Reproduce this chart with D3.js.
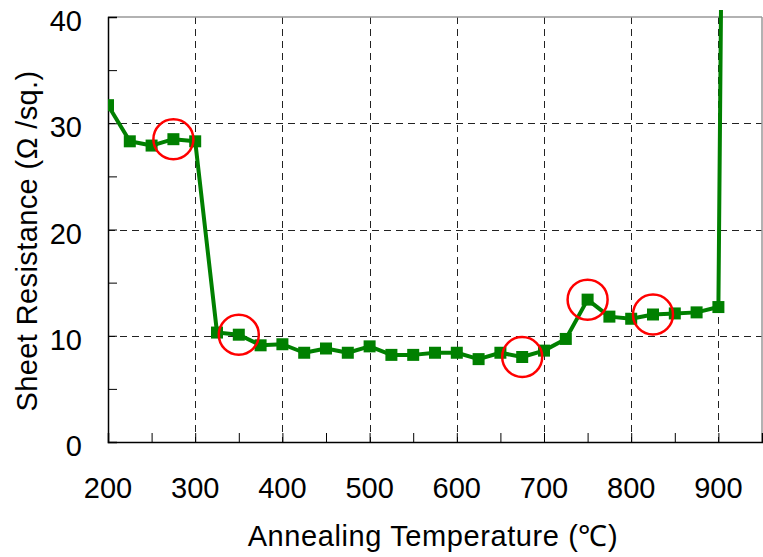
<!DOCTYPE html>
<html>
<head>
<meta charset="utf-8">
<script src="https://cdn.jsdelivr.net/npm/d3@7"></script>
<style>
  html, body { margin: 0; padding: 0; background: #fff; }
  svg { display: block; }
  text { font-family: "Liberation Sans Narrow", "Arial Narrow", "Liberation Sans", sans-serif; fill: #000; }
</style>
</head>
<body>
<svg id="chart" width="763" height="557"></svg>
<script>
// ---- data ----
const temperatures = [200, 225, 250, 275, 300, 325, 350, 375, 400, 425, 450, 475, 500, 525, 550, 575, 600, 625, 650, 675, 700, 725, 750, 775, 800, 825, 850, 875, 900, 905];
const resistance   = [31.7, 28.3, 27.9, 28.5, 28.3, 10.3, 10.1, 9.1, 9.2, 8.4, 8.8, 8.4, 9.0, 8.2, 8.2, 8.4, 8.4, 7.8, 8.4, 8.0, 8.6, 9.7, 13.4, 11.8, 11.6, 12.0, 12.1, 12.2, 12.7, 60];
const highlighted  = [275, 350, 675, 750, 825];
const xTickLabels  = [200, 300, 400, 500, 600, 700, 800, 900];
const yTickLabels  = [0, 10, 20, 30, 40];
const xLabel = "Annealing Temperature (℃)";
const yLabel = "Sheet Resistance (Ω /sq.)";

// ---- layout ----
const margin = { left: 108, top: 17, right: 1, bottom: 115 };
const W = 763, H = 557;
const width = W - margin.left - margin.right;
const height = H - margin.top - margin.bottom;

const svg = d3.select("#chart");
const g = svg.append("g").attr("transform", `translate(${margin.left},${margin.top})`);

const x = d3.scaleLinear().domain([200, 950]).range([0, width]);
const y = d3.scaleLinear().domain([0, 40]).range([height, 0]);

// clip (slightly taller at top to let the last segment poke out)
svg.append("defs").append("clipPath").attr("id", "clip")
  .append("rect").attr("x", 0).attr("y", -7).attr("width", width).attr("height", height + 7);

// grid
const grid = g.append("g").attr("stroke", "#222").attr("stroke-width", 1).attr("stroke-dasharray", "7,5");
grid.selectAll("line.v").data(xTickLabels.filter(d => d > 200)).enter().append("line")
  .attr("x1", d => Math.round(x(d)) + 0.5).attr("x2", d => Math.round(x(d)) + 0.5)
  .attr("y1", 0).attr("y2", height);
grid.selectAll("line.h").data([10, 20, 30]).enter().append("line")
  .attr("y1", d => Math.round(y(d)) + 0.5).attr("y2", d => Math.round(y(d)) + 0.5)
  .attr("x1", 0).attr("x2", width);

// frame: top/right grey
g.append("line").attr("x1", 0).attr("x2", width).attr("y1", 0).attr("y2", 0)
  .attr("stroke", "#999").attr("stroke-width", 1.5);
g.append("line").attr("x1", width).attr("x2", width).attr("y1", 0).attr("y2", height)
  .attr("stroke", "#999").attr("stroke-width", 1.5);

// axes
const xAxis = d3.axisBottom(x).tickValues(d3.range(200, 951, 50)).tickSize(-9).tickFormat("");
const gx = g.append("g").attr("transform", `translate(0,${height})`).call(xAxis);
gx.select(".domain").attr("stroke", "#000").attr("stroke-width", 1.5);
gx.selectAll(".tick line").attr("stroke", "#000").attr("stroke-width", 1);

const yAxis = d3.axisLeft(y).tickValues(d3.range(0, 41, 5)).tickSize(-9).tickFormat("");
const gy = g.append("g").call(yAxis);
gy.select(".domain").attr("stroke", "#000").attr("stroke-width", 1.5);
gy.selectAll(".tick line").attr("stroke", "#000").attr("stroke-width", 1);

// tick labels
g.selectAll("text.xl").data(xTickLabels).enter().append("text")
  .attr("x", d => x(d)).attr("y", height + 56)
  .attr("text-anchor", "middle").attr("font-size", 29).text(d => d);
g.selectAll("text.yl").data(yTickLabels).enter().append("text")
  .attr("x", -26).attr("y", d => y(d) + 14)
  .attr("text-anchor", "end").attr("font-size", 29).text(d => d);

// axis titles
svg.append("text").attr("x", 433).attr("y", 546).attr("text-anchor", "middle")
  .attr("font-size", 29).attr("letter-spacing", 0.6).text(xLabel);
svg.append("text").attr("transform", "translate(37,241) rotate(-90)").attr("text-anchor", "middle")
  .attr("font-size", 29).attr("letter-spacing", 0.4).text(yLabel);

// data
const data = temperatures.map((t, i) => ({ t, r: resistance[i] }));
const plot = g.append("g").attr("clip-path", "url(#clip)");
const green = "#008000";
plot.append("path").datum(data)
  .attr("fill", "none").attr("stroke", green).attr("stroke-width", 4).attr("stroke-linejoin", "round")
  .attr("d", d3.line().x(d => x(d.t)).y(d => y(d.r)));
const ms = 12;
plot.selectAll("rect.m").data(data).enter().append("rect")
  .attr("x", d => x(d.t) - ms / 2).attr("y", d => y(d.r) - ms / 2)
  .attr("width", ms).attr("height", ms).attr("fill", green);

// highlight circles
const hl = data.filter(d => highlighted.includes(d.t));
g.selectAll("circle.h").data(hl).enter().append("circle")
  .attr("cx", d => x(d.t)).attr("cy", d => y(d.r)).attr("r", 20)
  .attr("fill", "none").attr("stroke", "#f00").attr("stroke-width", 2.5);
</script>
</body>
</html>
